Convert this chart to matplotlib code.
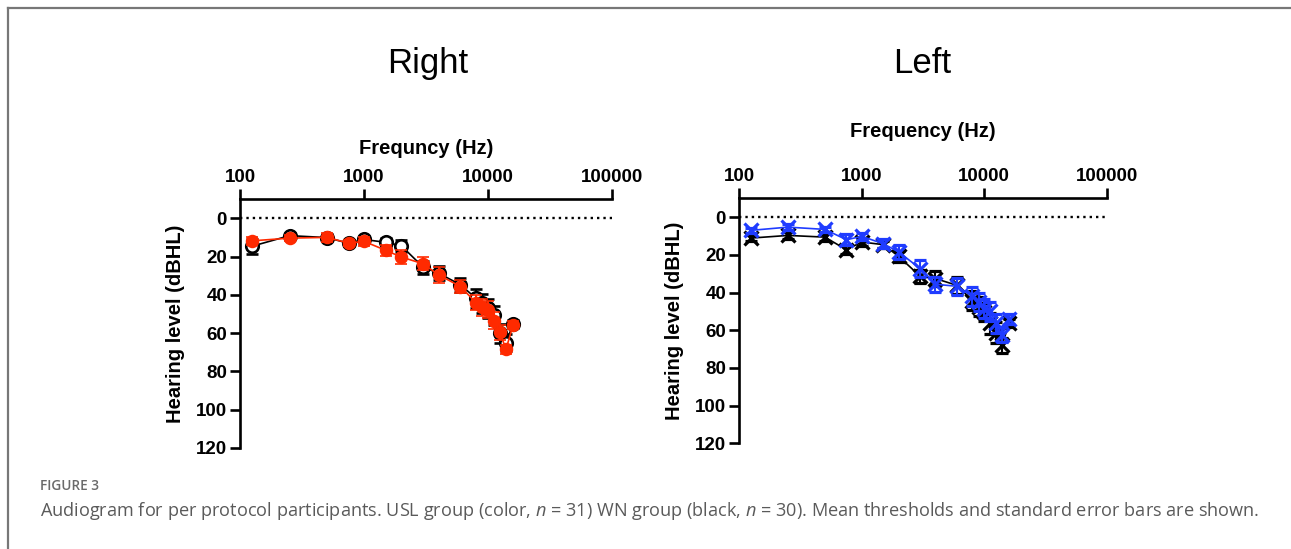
import matplotlib
matplotlib.use("Agg")
import matplotlib.pyplot as plt
from matplotlib.lines import Line2D
from matplotlib.ticker import FixedLocator, FixedFormatter, NullLocator

plt.rcParams['mathtext.fontset'] = 'custom'
plt.rcParams['mathtext.it'] = 'Open Sans:italic'
plt.rcParams['mathtext.rm'] = 'Open Sans'

# ---------------- data ----------------
freqs = [125, 250, 500, 750, 1000, 1500, 2000, 3000, 4000, 6000,
         8000, 9000, 10000, 11200, 12500, 14000, 16000]

# Right ear
right_wn_mean = [14.5, 9, 10, 13, 11, 12.5, 14.3, 25.5, 28.6, 34.7,
                 41.7, 44.3, 46.9, 50.7, 60, 64.9, 55.1]
right_wn_sem = [4, 1.5, 2, 1.5, 2, 2.5, 3, 3.5, 3.5, 3.5,
                5, 5, 5, 5, 5, 4.5, 2]
right_usl_mean = [11.7, 10.3, 9.9, 12.9, 12, 16.7, 20.2, 23.7, 29.5, 35.6,
                  44, 46.4, 47.8, 53.4, 59.6, 68.4, 55.6]
right_usl_sem = [2, 1.5, 2.5, 1.5, 2.5, 3, 3.5, 3.5, 4, 3.5,
                 4, 4.5, 4.5, 4.5, 4, 2.5, 2]

# Left ear
left_wn_mean = [11.1, 9.7, 10.6, 17.3, 13.2, 14.6, 20.8, 31.4, 32.6, 36.2,
                44.4, 47.6, 50.3, 56.4, 61.4, 67.9, 56.1]
left_wn_sem = [1.5, 2, 2, 2.5, 2, 2, 3, 3.5, 4, 4.5,
               5, 5, 5, 5.5, 5.5, 4, 2]
left_usl_mean = [7, 5.3, 6.5, 12, 10.2, 14.1, 18.5, 27.3, 35.6, 36.7,
                 42, 45, 48.5, 50, 56.4, 62.5, 54]
left_usl_sem = [1.5, 1.5, 1.5, 3, 2, 2.5, 3.5, 4.5, 4, 4.5,
                5, 5, 5, 5, 5, 4, 2.5]

x_ticks = [100, 1000, 10000, 100000]
x_ticklabels = ['100', '1000', '10000', '100000']
y_ticks = [0, 20, 40, 60, 80, 100, 120]
y_ticklabels = ['0', '20', '40', '60', '80', '100', '120']

RED = '#ff2a00'
BLUE = '#1f3cff'

W, H = 1291, 549
fig = plt.figure(figsize=(W / 100, H / 100), dpi=100)
fig.patch.set_facecolor('white')

FONT = 'Liberation Sans'


def px_axes(l, r, t, b):
    return fig.add_axes([l / W, 1 - b / H, (r - l) / W, (b - t) / H])


def style(ax, xlabel, labelpad):
    ax.set_xscale('log')
    ax.set_xlim(100, 100000)
    ax.set_ylim(120, -10)
    for s in ['right', 'bottom']:
        ax.spines[s].set_visible(False)
    for s in ['left', 'top']:
        ax.spines[s].set_linewidth(1.9)
    ax.xaxis.set_ticks_position('top')
    ax.xaxis.set_label_position('top')
    ax.xaxis.set_major_locator(FixedLocator(x_ticks))
    ax.xaxis.set_major_formatter(FixedFormatter(x_ticklabels))
    ax.xaxis.set_minor_locator(NullLocator())
    ax.set_yticks(y_ticks)
    ax.set_yticklabels(y_ticklabels)
    ax.tick_params(axis='both', which='major', direction='out', length=7,
                   width=1.9, labelsize=13.5, pad=2.5)
    for lab in ax.get_xticklabels() + ax.get_yticklabels():
        lab.set_fontfamily(FONT)
        lab.set_fontweight('bold')
    ax.set_xlabel(xlabel, fontsize=14.5, fontweight='bold', family=FONT,
                  labelpad=labelpad)
    ax.set_ylabel('Hearing level (dBHL)', fontsize=14.5, fontweight='bold',
                  family=FONT, labelpad=8)
    ax.axhline(0, color='black', lw=1.7, ls=(0, (1, 1.7)), zorder=1)
    ax.set_facecolor('none')


# Right panel
axR = px_axes(240.3, 611.7, 199.3, 448)
style(axR, 'Frequncy (Hz)', 11)
axR.errorbar(freqs, right_wn_mean, yerr=right_wn_sem, fmt='-o', color='black',
             mfc='white', mec='black', ms=9, mew=1.9, lw=1.2,
             elinewidth=1.5, capsize=4.5, capthick=1.5, zorder=3)
axR.errorbar(freqs, right_usl_mean, yerr=right_usl_sem, fmt='-o', color=RED,
             mfc=RED, mec=RED, ms=8.5, mew=1.2, lw=1.2,
             elinewidth=1.5, capsize=4.5, capthick=1.5, zorder=4)

# Left panel
axL = px_axes(739.3, 1106.7, 198.3, 443.3)
style(axL, 'Frequency (Hz)', 22.5)
axL.errorbar(freqs, left_wn_mean, yerr=left_wn_sem, fmt='-x', color='black',
             ms=9.5, mew=2.3, lw=1.2,
             elinewidth=1.5, capsize=4.5, capthick=1.5, zorder=3)
axL.errorbar(freqs, left_usl_mean, yerr=left_usl_sem, fmt='-x', color=BLUE,
             ms=9.5, mew=2.3, lw=1.2,
             elinewidth=1.5, capsize=4.5, capthick=1.5, zorder=4)

# Titles
fig.text(428 / W, 1 - 73 / H, 'Right', fontsize=25, family=FONT,
         ha='center', va='baseline')
fig.text(922 / W, 1 - 73 / H, 'Left', fontsize=25, family=FONT,
         ha='center', va='baseline')

# Caption
fig.text(40 / W, 1 - 486 / H, 'FIGURE 3', fontsize=9.8, family='Open Sans',
         fontweight='semibold', color='#6a6a6a', va='center')
fig.text(40 / W, 1 - 511 / H,
         'Audiogram for per protocol participants. USL group (color, $n$ = 31) '
         'WN group (black, $n$ = 30). Mean thresholds and standard error bars are shown.',
         fontsize=13.1, family='Open Sans', color='#5a5a5a', va='center')

# Border
fig.add_artist(Line2D([7.5 / W, 1], [1 - 7.5 / H, 1 - 7.5 / H],
                      transform=fig.transFigure, color='#777777', lw=1.6))
fig.add_artist(Line2D([7.5 / W, 7.5 / W], [0, 1 - 7.5 / H],
                      transform=fig.transFigure, color='#777777', lw=1.6))

fig.savefig('out.png', dpi=100, facecolor='white')
